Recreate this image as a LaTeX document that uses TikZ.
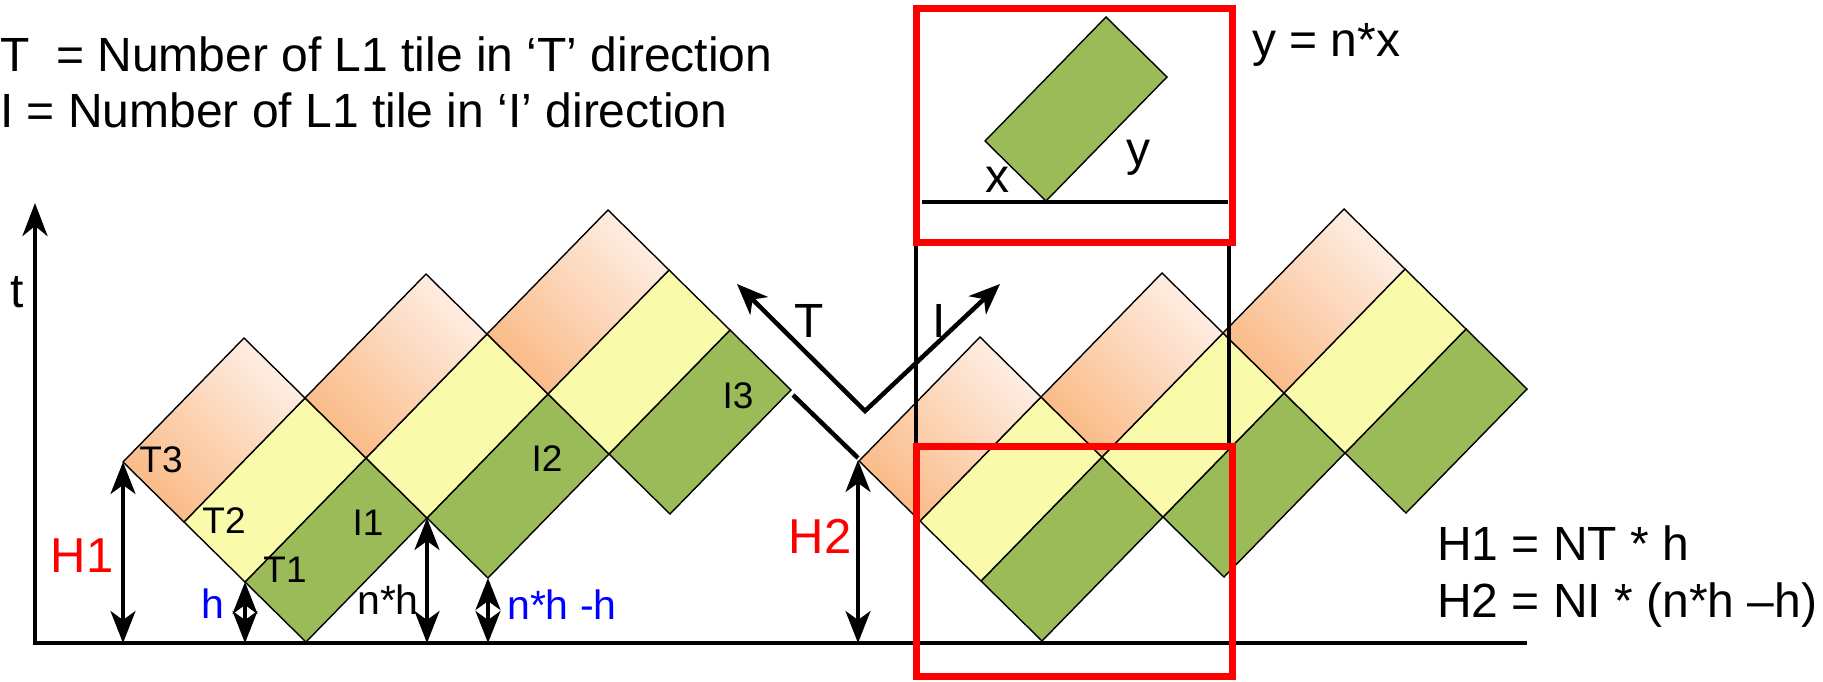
\documentclass[tikz,border=0pt]{standalone}
\usepackage{fontspec}
\setmainfont{Liberation Sans}
\usetikzlibrary{arrows.meta}
\definecolor{tgreen}{RGB}{155,187,89}
\definecolor{tyellow}{RGB}{249,250,170}
\definecolor{odark}{RGB}{250,186,134}
\definecolor{olight}{RGB}{254,238,228}
\definecolor{hred}{RGB}{255,0,0}
\definecolor{hblue}{RGB}{0,0,255}
\newcommand\tilestack[2]{%
  \path[gtile] (#1,#2) -- ++(-61,-60) -- ++(121,-124) -- ++(61,60) -- cycle;
  \path[ytile] (#1-61,#2-60) -- ++(-61,-60) -- ++(121,-124) -- ++(61,60) -- cycle;
  \path[otile] (#1-122,#2-120) -- ++(-61,-60) -- ++(121,-124) -- ++(61,60) -- cycle;
}
\begin{document}
\begin{tikzpicture}[x=1pt,y=-1pt,
  tileedge/.style={draw=black,line width=1.4pt,line join=miter},
  gtile/.style={tileedge,fill=tgreen},
  ytile/.style={tileedge,fill=tyellow},
  otile/.style={tileedge,top color=olight,bottom color=odark,shading angle=-45},
  dimarrow/.style={line width=3.4pt,{Stealth[length=32pt,width=25pt,inset=9pt]}-{Stealth[length=32pt,width=25pt,inset=9pt]}},
  axisline/.style={line width=4.5pt},
  dirarrow/.style={line width=4.5pt,line join=miter,{Stealth[length=31pt,width=25pt,inset=9pt]}-{Stealth[length=31pt,width=25pt,inset=9pt]}},
  redbox/.style={draw=hred,line width=7pt},
  guide/.style={line width=3.5pt},
  lbl/.style={inner sep=0pt,anchor=base,font=\fontsize{37}{42}\selectfont},
  big/.style={inner sep=0pt,anchor=base,font=\fontsize{48}{53}\selectfont},
  hlbl/.style={inner sep=0pt,anchor=base,font=\fontsize{41}{46}\selectfont,text=hblue},
  Hlbl/.style={inner sep=0pt,anchor=base,font=\fontsize{49}{54}\selectfont,text=hred}
]
\useasboundingbox (0,0) rectangle (1823,682);

% tiles, left group and right group
\tilestack{306}{642}
\tilestack{488}{578}
\tilestack{670}{514}
\tilestack{1042}{641}
\tilestack{1224}{577}
\tilestack{1406}{513}

% coordinates
\coordinate (axtop) at (35,203);
\coordinate (axorig) at (35,643);
\coordinate (axend) at (1527,643);
\coordinate (H1t) at (123,462);
\coordinate (H1b) at (123,643);
\coordinate (ht) at (245,582);
\coordinate (hb) at (245,643);
\coordinate (nht) at (427,518);
\coordinate (nhb) at (427,643);
\coordinate (nhht) at (488,578);
\coordinate (nhhb) at (488,643);
\coordinate (H2t) at (858,460);
\coordinate (H2b) at (858,643);
\coordinate (I3R) at (793,395);
\coordinate (R1L) at (858,458);
\coordinate (Vtx) at (865,411);
\coordinate (Ttip) at (737,284);
\coordinate (Itip) at (1000,284);

% axes
\draw[axisline,-{Stealth[length=33pt,width=25pt,inset=10pt]}] (axorig) -- (axtop);
\draw[axisline] ([xshift=-2pt]axorig) -- (axend);

% dimension arrows
\draw[dimarrow] (H1t) -- (H1b);
\draw[dimarrow] (ht) -- (hb);
\draw[dimarrow] (nht) -- (nhb);
\draw[dimarrow] (nhht) -- (nhhb);
\draw[dimarrow] (H2t) -- (H2b);

% T / I direction arrows and link line
\draw[dirarrow] (Ttip) -- (Vtx) -- (Itip);
\draw[line width=4.5pt] (I3R) -- (R1L);

% top inset box
\draw[line width=4pt] (922,202) -- (1228,202);
\path[gtile] (1046,201) -- ++(-61,-60) -- ++(121,-124) -- ++(61,60) -- cycle;
\draw[guide] (916,242) -- (916,446);
\draw[guide] (1229,242) -- (1229,446);
\draw[redbox] (916,9) rectangle (1232,242);
\draw[redbox] (916,446) rectangle (1232,676);

% texts
\node[big,anchor=base west] (leg1) at (0,72) {T\ \ = Number of L1 tile in ‘T’ direction};
\node[big,anchor=base west] (leg2) at (0,128) {I = Number of L1 tile in ‘I’ direction};
\node[big,anchor=base west] (yeq) at (1252,57) {y = n*x};
\node[big,anchor=base west] (f1) at (1437,560) {H1 = NT * h};
\node[big,anchor=base west] (f2) at (1437,617) {H2 = NI * (n*h –h)};
\node[big] (tl) at (17,307) {t};
\node[big] (Tl) at (809,337) {T};
\node[big] (Il) at (939,337) {I};
\node[big] (xl) at (997,192) {x};
\node[big] (yl) at (1138,165) {y};
\node[lbl] (T3) at (161,472) {T3};
\node[lbl] (T2) at (224,533) {T2};
\node[lbl] (T1) at (285,582) {T1};
\node[lbl] (I1) at (368,535) {I1};
\node[lbl] (I2) at (547,471) {I2};
\node[lbl] (I3) at (738,408) {I3};
\node[hlbl] (hl) at (213,618) {h};
\node[lbl,font=\fontsize{41}{46}\selectfont] (nhl) at (388,614) {n*h};
\node[hlbl,anchor=base west] (nhhl) at (507,619) {n*h -h};
\node[Hlbl] (H1l) at (82,572) {H1};
\node[Hlbl] (H2l) at (820,553) {H2};
\end{tikzpicture}
\end{document}
